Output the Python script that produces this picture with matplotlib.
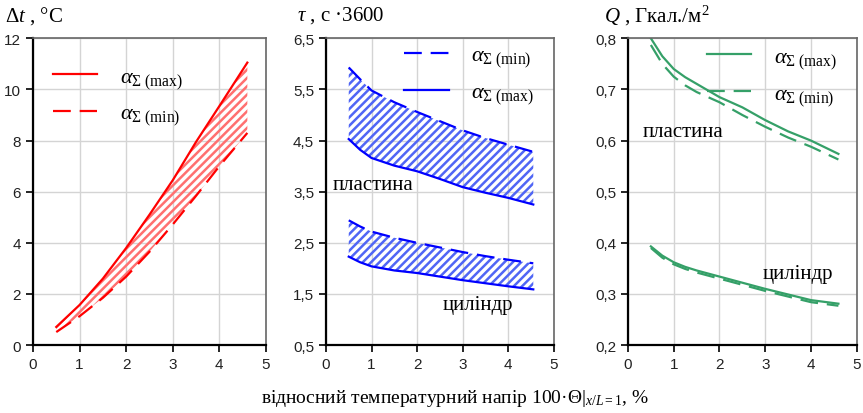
import matplotlib
matplotlib.use("Agg")
import matplotlib.pyplot as plt

plt.rcParams["font.family"] = ["Liberation Sans", "DejaVu Sans"]
plt.rcParams["mathtext.fontset"] = "custom"
plt.rcParams["mathtext.rm"] = "Liberation Serif"
plt.rcParams["mathtext.it"] = "Liberation Serif:italic"
plt.rcParams["mathtext.bf"] = "Liberation Serif:bold"
plt.rcParams["hatch.linewidth"] = 1.8

SERIF = ["Liberation Serif", "DejaVu Serif"]

# --- data ---
x_dt = [0.5, 1.0, 1.5, 2.0, 2.5, 3.0, 3.5, 4.0, 4.6]
dt_max = [0.71, 1.57, 2.6, 3.8, 5.1, 6.45, 7.95, 9.35, 11.05]
dt_min = [0.51, 1.13, 1.85, 2.68, 3.65, 4.72, 5.84, 7.0, 8.3]

x_tau = [0.5, 0.75, 1.0, 1.5, 2.0, 2.5, 3.0, 3.5, 4.0, 4.55]
tau_plate_min = [5.93, 5.7, 5.48, 5.25, 5.06, 4.88, 4.7, 4.55, 4.42, 4.28]
tau_plate_max = [4.53, 4.32, 4.16, 4.01, 3.9, 3.75, 3.59, 3.48, 3.38, 3.25]
tau_cyl_min = [2.94, 2.82, 2.72, 2.6, 2.5, 2.41, 2.32, 2.24, 2.17, 2.1]
tau_cyl_max = [2.23, 2.12, 2.04, 1.96, 1.91, 1.84, 1.77, 1.71, 1.65, 1.59]

x_q = [0.5, 0.75, 1.0, 1.25, 1.5, 2.0, 2.5, 3.0, 3.5, 4.0, 4.6]
q_plate_max = [0.80, 0.765, 0.74, 0.724, 0.711, 0.685, 0.665, 0.64, 0.618, 0.60, 0.574]
q_plate_min = [0.787, 0.75, 0.725, 0.708, 0.695, 0.675, 0.65, 0.627, 0.606, 0.588, 0.563]
q_cyl_max = [0.393, 0.375, 0.362, 0.353, 0.346, 0.334, 0.322, 0.310, 0.299, 0.288, 0.281]
q_cyl_min = [0.390, 0.371, 0.358, 0.349, 0.342, 0.330, 0.318, 0.306, 0.295, 0.284, 0.277]

dt_ticks = [0, 2, 4, 6, 8, 10, 12]
tau_ticks = [0.5, 1.5, 2.5, 3.5, 4.5, 5.5, 6.5]
q_ticks = [0.2, 0.3, 0.4, 0.5, 0.6, 0.7, 0.8]

LBL_MAX = r"$\alpha_{\Sigma\ \mathrm{(max)}}$"
LBL_MIN = r"$\alpha_{\Sigma\ \mathrm{(min)}}$"

RED = "#ff0000"
BLUE = "#0000ff"
GREEN = "#35a068"
DASH = (8, 4)


def style_axes(ax, yticks, fmt):
    ax.set_xlim(0, 5)
    ax.set_xticks(range(6))
    ax.set_ylim(yticks[0], yticks[-1])
    ax.set_yticks(yticks)
    ax.set_yticklabels([fmt(v).replace(".", ",") for v in yticks])
    ax.grid(True, color="#d4d4d4", linewidth=1.0)
    ax.set_axisbelow(True)
    ax.tick_params(direction="out", length=5, width=1.2, labelsize=11,
                   colors="black", labelcolor="#222222")
    for side in ("left", "bottom"):
        ax.spines[side].set_linewidth(1.6)
        ax.spines[side].set_color("black")
    for side in ("top", "right"):
        ax.spines[side].set_linewidth(1.2)
        ax.spines[side].set_color("#666666")


def legend(ax, handles, anchor, loc):
    ax.legend(handles=handles, loc=loc, bbox_to_anchor=anchor, frameon=False,
              fontsize=16, handlelength=2.0, handletextpad=1.0,
              labelspacing=0.55)


fig = plt.figure(figsize=(8.63, 4.14), dpi=100)
bottom, height = 0.164, 0.741
ax1 = fig.add_axes([0.0382, bottom, 0.270, height])
ax2 = fig.add_axes([0.3777, bottom, 0.264, height])
ax3 = fig.add_axes([0.7277, bottom, 0.265, height])

# panel 1: temperature difference
ax1.fill_between(x_dt, dt_min, dt_max, facecolor="none", edgecolor="#ff7070",
                 hatch="////", linewidth=0)
h1, = ax1.plot(x_dt, dt_max, color=RED, linewidth=1.6, label=LBL_MAX)
h2, = ax1.plot(x_dt, dt_min, color=RED, linewidth=1.6, dashes=DASH, label=LBL_MIN)
style_axes(ax1, dt_ticks, lambda v: f"{v:d}")
legend(ax1, [h1, h2], (0.0, 0.975), "upper left")

# panel 2: time
ax2.fill_between(x_tau, tau_plate_max, tau_plate_min, facecolor="none",
                 edgecolor="#5066f5", hatch="////", linewidth=0)
ax2.fill_between(x_tau, tau_cyl_max, tau_cyl_min, facecolor="none",
                 edgecolor="#5066f5", hatch="////", linewidth=0)
h3, = ax2.plot(x_tau, tau_plate_min, color=BLUE, linewidth=1.6, dashes=DASH, label=LBL_MIN)
h4, = ax2.plot(x_tau, tau_plate_max, color=BLUE, linewidth=1.6, label=LBL_MAX)
ax2.plot(x_tau, tau_cyl_min, color=BLUE, linewidth=1.6, dashes=DASH)
ax2.plot(x_tau, tau_cyl_max, color=BLUE, linewidth=1.6)
style_axes(ax2, tau_ticks, lambda v: f"{v:.1f}")
legend(ax2, [h3, h4], (1.0, 1.045), "upper right")
ax2.text(0.15, 3.65, "пластина", family=SERIF, fontsize=15, va="center")
ax2.text(2.55, 1.3, "цилiндр", family=SERIF, fontsize=15, va="center")

# panel 3: heat
h5, = ax3.plot(x_q, q_plate_max, color=GREEN, linewidth=1.6, label=LBL_MAX)
h6, = ax3.plot(x_q, q_plate_min, color=GREEN, linewidth=1.6, dashes=DASH, label=LBL_MIN)
ax3.plot(x_q, q_cyl_max, color=GREEN, linewidth=1.6)
ax3.plot(x_q, q_cyl_min, color=GREEN, linewidth=1.6, dashes=DASH)
style_axes(ax3, q_ticks, lambda v: f"{v:.1f}")
legend(ax3, [h5, h6], (1.0, 1.04), "upper right")
ax3.text(0.33, 0.618, "пластина", family=SERIF, fontsize=15, va="center")
ax3.text(2.95, 0.341, "цилiндр", family=SERIF, fontsize=15, va="center")

# axis titles above each panel
fig.text(0.006, 0.962, r"$\Delta t$ , °C", family=SERIF, fontsize=15, va="center")
fig.text(0.344, 0.962, r"$\tau$ , с ·3600", family=SERIF, fontsize=15, va="center")
fig.text(0.700, 0.962, r"$Q$ , Гкал./м$^2$", family=SERIF, fontsize=15, va="center")
fig.text(0.527, 0.038, r"відносний температурний напір 100·Θ$|_{x/L=1}$, %",
         family=SERIF, fontsize=14, ha="center", va="center")

fig.savefig("out.png", dpi=100)
